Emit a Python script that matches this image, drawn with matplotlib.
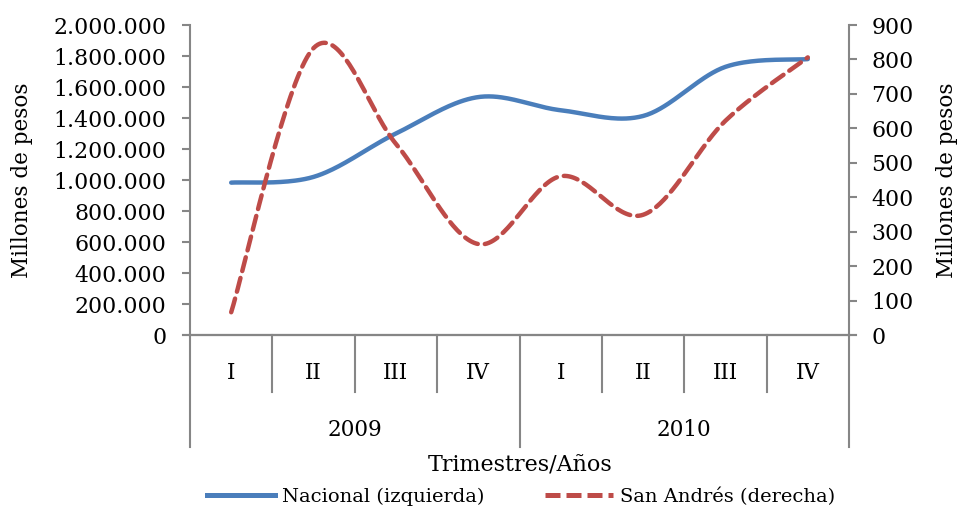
import numpy as np
import matplotlib
matplotlib.use("Agg")
import matplotlib.pyplot as plt
from matplotlib.ticker import FuncFormatter, MultipleLocator
from matplotlib.lines import Line2D
import matplotlib.transforms as mtransforms

quarters = ["I", "II", "III", "IV", "I", "II", "III", "IV"]
years = ["2009", "2010"]
nacional = [983000, 1020000, 1300000, 1535000, 1450000, 1413000, 1730000, 1780000]
san_andres = [66, 833, 555, 264, 461, 349, 622, 806]

blue = "#4A7EBB"
red = "#BE4B48"
gray = "#868686"
serif = "DejaVu Serif"
FS = 15.5


def catmull(x, y, n=40):
    x = np.asarray(x, float)
    y = np.asarray(y, float)
    px = np.concatenate([[x[0]], x, [x[-1]]])
    py = np.concatenate([[y[0]], y, [y[-1]]])
    xs, ys = [], []
    t = np.linspace(0, 1, n)
    for i in range(1, len(px) - 2):
        p0, p1, p2, p3 = (np.array([px[j], py[j]]) for j in (i - 1, i, i + 1, i + 2))
        c1 = p1 + (p2 - p0) / 6.0
        c2 = p2 - (p3 - p1) / 6.0
        b = ((1 - t) ** 3)[:, None] * p1 + (3 * (1 - t) ** 2 * t)[:, None] * c1 \
            + (3 * (1 - t) * t ** 2)[:, None] * c2 + (t ** 3)[:, None] * p2
        xs.append(b[:, 0])
        ys.append(b[:, 1])
    return np.concatenate(xs), np.concatenate(ys)


W, H = 959, 511
fig = plt.figure(figsize=(W / 100, H / 100), dpi=100)
ax = fig.add_axes([190 / W, (H - 335) / H, (849 - 190) / W, (335 - 25) / H])
ax2 = ax.twinx()

xi = np.arange(len(quarters))
sx, sy = catmull(xi, nacional)
ax.plot(sx, sy, color=blue, lw=3.2, solid_capstyle="round", zorder=3)
rx, ry = catmull(xi, san_andres)
ax2.plot(rx, ry, color=red, lw=3.2, dashes=(3.2, 1.6), dash_capstyle="round", zorder=3)

ax.set_xlim(-0.5, len(quarters) - 0.5)
ax.set_ylim(0, 2000000)
ax2.set_ylim(0, 900)
ax.yaxis.set_major_locator(MultipleLocator(200000))
ax2.yaxis.set_major_locator(MultipleLocator(100))
ax.yaxis.set_major_formatter(FuncFormatter(lambda v, p: f"{int(v):,}".replace(",", ".")))
ax.set_xticks([])

for a, pad in ((ax, 11), (ax2, 10)):
    for s in a.spines.values():
        s.set_color(gray)
        s.set_linewidth(1.5)
    a.spines["top"].set_visible(False)
    a.tick_params(axis="y", colors=gray, length=6, width=1.5, labelsize=15.8,
                  labelcolor="black", pad=pad)
    for lab in a.get_yticklabels():
        lab.set_fontfamily(serif)
ax2.spines["left"].set_visible(False)
ax.spines["right"].set_visible(False)

ax.set_ylabel("Millones de pesos", fontsize=FS, family=serif, labelpad=15)
ax2.set_ylabel("Millones de pesos", fontsize=FS, family=serif, labelpad=16)

# category axis
trans = mtransforms.blended_transform_factory(ax.transData, ax.transAxes)
q_bottom = -(392 - 335) / 310
y_bottom = -(447 - 335) / 310
for k in range(len(quarters) + 1):
    xb = -0.5 + k
    yb = y_bottom if k % 4 == 0 else q_bottom
    ax.add_line(Line2D([xb, xb], [0, yb], transform=trans, color=gray, lw=1.5, clip_on=False))
ax.add_line(Line2D([-0.58, len(quarters) - 0.42], [0, 0], transform=trans, color=gray, lw=1.5, clip_on=False))
for i, q in enumerate(quarters):
    ax.text(i, -(373 - 335) / 310, q, transform=trans, ha="center", va="center",
            fontsize=FS, family=serif)
for j, yr in enumerate(years):
    ax.text(j * 4 + 1.5, -(430 - 335) / 310, yr, transform=trans, ha="center", va="center",
            fontsize=FS, family=serif)
fig.text(520 / W, 1 - 466 / H, "Trimestres/Años", ha="center", va="center",
         fontsize=16, family=serif)

handles = [Line2D([], [], color=blue, lw=3.6),
           Line2D([], [], color=red, lw=3.6, dashes=(3.0, 1.2))]
fig.legend(handles, ["Nacional (izquierda)", "San Andrés (derecha)"], loc="center",
           bbox_to_anchor=(521 / W, 1 - 497 / H), ncol=2, frameon=False,
           handlelength=3.5, columnspacing=3.1, handletextpad=0.36,
           prop={"family": serif, "size": 14})

fig.savefig("out.png", dpi=100)
